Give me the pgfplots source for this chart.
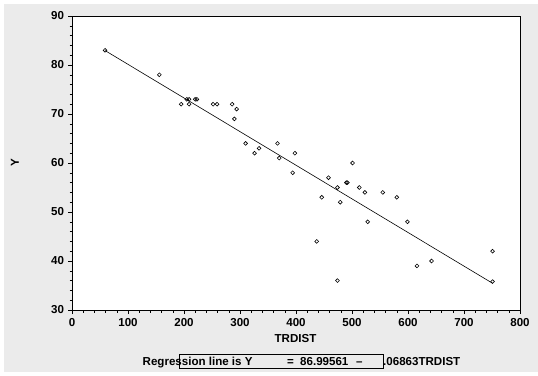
\documentclass[border=0pt]{standalone}
\usepackage{pgfplots}
\pgfplotsset{compat=1.18}
\usepackage{fontspec}
\setmainfont{Liberation Sans}
\definecolor{bggray}{RGB}{235,235,235}
\newcommand{\lf}{\fontsize{11.6}{13}\selectfont\bfseries}
\begin{document}
\begin{tikzpicture}[x=1bp,y=1bp]
\fill[white] (0,0) rectangle (538,375);
\fill[bggray] (4,3) rectangle (538,371);
\begin{axis}[
  at={(72bp,65bp)}, anchor=south west,
  scale only axis, width=448bp, height=294bp,
  xmin=0, xmax=800, ymin=30, ymax=90,
  xtick={0,100,...,800}, ytick={30,40,...,90},
  minor x tick num=4, minor y tick num=4,
  xtick pos=bottom, ytick pos=left, tick align=outside,
  major tick length=4bp, minor tick length=2.5bp,
  tick style={black, line width=0.5pt},
  axis line style={black, line width=0.9pt},
  axis background/.style={fill=white},
  /pgf/number format/assume math mode=true,
  ticklabel style={font=\lf},
  xticklabel style={yshift=-0.5bp},
  yticklabel style={xshift=-0.5bp},
  clip=false,
]
\addplot[only marks, mark=o, mark size=1.9bp, mark options={line width=0.6pt, black}] coordinates {
(59,83) (156,78) (195,72) (205,73) (209,73) (209,72) (220,73) (223,73)
(252,72) (259,72) (286,72) (294,71) (290,69) (310,64) (326,62) (334,63)
(367,64) (370,61) (398,62) (394,58) (458,57) (501,60) (446,53) (474,55)
(479,52) (490,56) (492,56) (513,55) (523,54) (555,54) (580,53) (528,48)
(599,48) (437,44) (616,39) (642,40) (751,42) (751,35.8) (474,36)
};
\addplot[black, line width=0.6pt] coordinates {(59,82.946) (751,35.455)};
\end{axis}
\node[font=\lf] at (295.5,36) {TRDIST};
\node[font=\lf, rotate=90] at (15,212) {Y};
\draw[black, line width=0.6pt] (179,7) rectangle (383,21);
\node[font=\lf, anchor=base west, inner sep=0pt] at (142.5,9.5) {Regression line is Y};
\node[font=\lf, anchor=base west, inner sep=0pt] at (287,9.5) {=};
\node[font=\lf, anchor=base west, inner sep=0pt] at (300,9.5) {86.99561};
\node[font=\lf, anchor=base west, inner sep=0pt] at (356,9.5) {--};
\node[font=\lf, anchor=base west, inner sep=0pt] at (383,9.5) {.06863TRDIST};
\end{tikzpicture}
\end{document}
